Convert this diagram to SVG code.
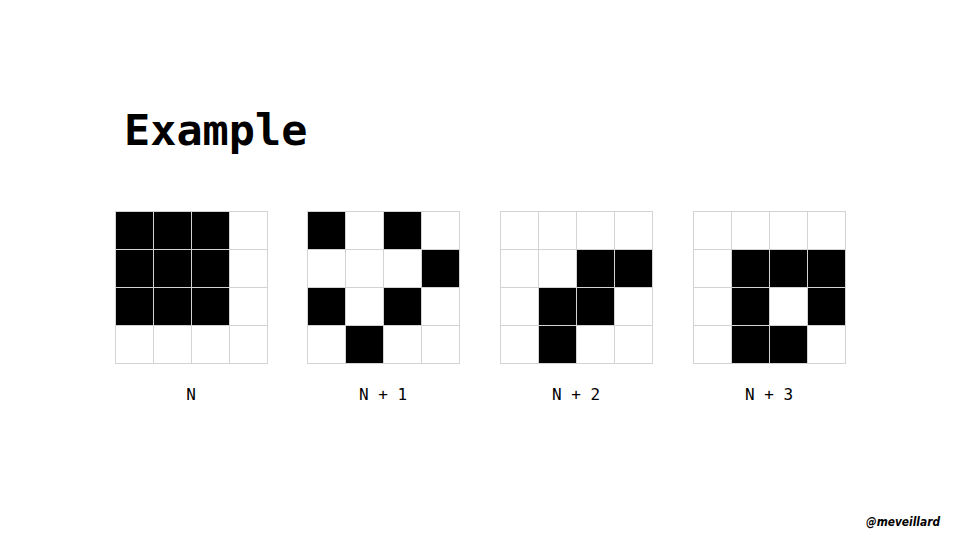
<svg xmlns="http://www.w3.org/2000/svg" width="960" height="540" viewBox="0 0 960 540">
<style>
.bg{fill:#fff}
.on{fill:#000}
.cell{fill:none;stroke:#d3d3d3;stroke-width:1}
.title{font-family:"DejaVu Sans Mono",monospace;font-weight:bold;font-size:43.5px;fill:#000}
.lbl{font-family:"DejaVu Sans Mono",monospace;font-size:16px;fill:#000;text-anchor:middle}
.sig{font-family:"DejaVu Sans",sans-serif;font-style:italic;font-weight:bold;font-size:12px;fill:#000}
</style>
<defs>
<g id="grid">
<rect class="cell" x="0.5" y="0.5" width="152" height="152"/>
<path class="cell" d="M38.5 0.5V152.5M76.5 0.5V152.5M114.5 0.5V152.5M0.5 38.5H152.5M0.5 76.5H152.5M0.5 114.5H152.5"/>
</g>
</defs>
<rect class="bg" width="960" height="540"/>
<text class="title" x="124" y="145">Example</text>
<g id="gen0" transform="translate(115,211)">
<rect class="on" x="0" y="0" width="114" height="114"/>
<use href="#grid"/>
<text class="lbl" x="76" y="189">N</text>
</g>
<g id="gen1" transform="translate(307,211)">
<rect class="on" x="0" y="0" width="38" height="38"/>
<rect class="on" x="76" y="0" width="38" height="38"/>
<rect class="on" x="114" y="38" width="38" height="38"/>
<rect class="on" x="0" y="76" width="38" height="38"/>
<rect class="on" x="76" y="76" width="38" height="38"/>
<rect class="on" x="38" y="114" width="38" height="38"/>
<use href="#grid"/>
<text class="lbl" x="76" y="189">N + 1</text>
</g>
<g id="gen2" transform="translate(500,211)">
<rect class="on" x="76" y="38" width="76" height="38"/>
<rect class="on" x="38" y="76" width="76" height="38"/>
<rect class="on" x="38" y="114" width="38" height="38"/>
<use href="#grid"/>
<text class="lbl" x="76" y="189">N + 2</text>
</g>
<g id="gen3" transform="translate(693,211)">
<rect class="on" x="38" y="38" width="114" height="38"/>
<rect class="on" x="38" y="76" width="38" height="38"/>
<rect class="on" x="114" y="76" width="38" height="38"/>
<rect class="on" x="38" y="114" width="76" height="38"/>
<use href="#grid"/>
<text class="lbl" x="76" y="189">N + 3</text>
</g>
<text class="sig" x="866" y="526" textLength="74" lengthAdjust="spacingAndGlyphs">@meveillard</text>
</svg>
